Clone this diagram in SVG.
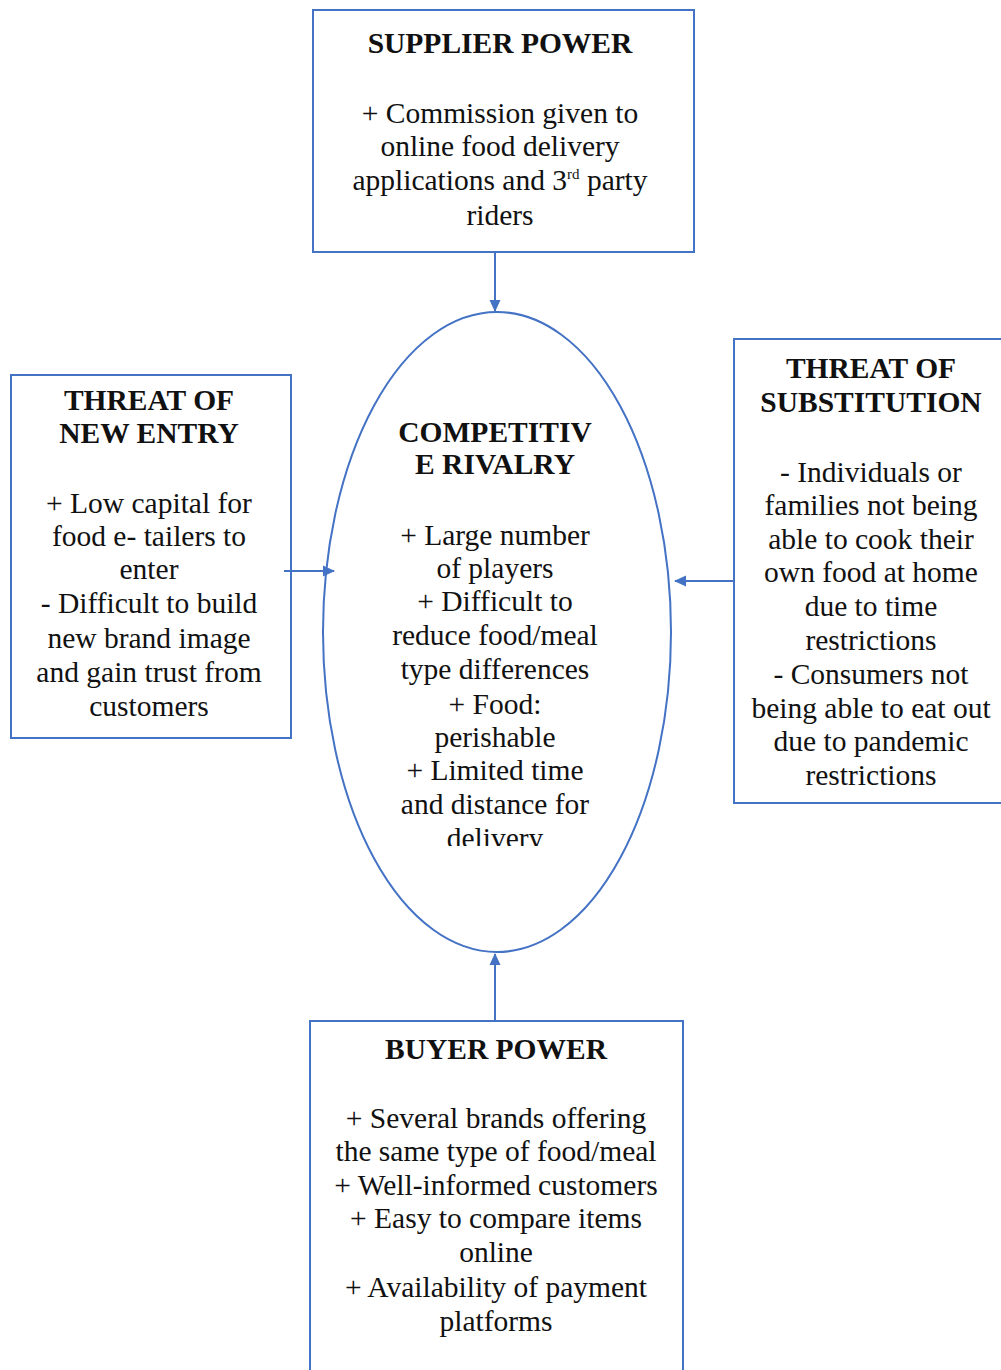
<svg xmlns="http://www.w3.org/2000/svg" width="1001" height="1370" viewBox="0 0 1001 1370">
<style>
.box{fill:#fff;stroke:#4472C4;stroke-width:2}
.t{font-family:"Liberation Serif","Times New Roman",serif;font-size:29.5px;fill:#111;text-anchor:middle}
.h{font-weight:bold}
.c{stroke:#4472C4;stroke-width:2;fill:none}
</style>
<defs>
<marker id="arr" markerWidth="12" markerHeight="12" refX="11" refY="6" orient="auto" markerUnits="userSpaceOnUse">
<path d="M0,0.5 L12,6 L0,11.5 z" fill="#4472C4"/>
</marker>
<clipPath id="ellclip"><rect x="300" y="300" width="400" height="546"/></clipPath>
</defs>
<rect width="1001" height="1370" fill="#fff"/>
<g id="supplier-power">
<rect class="box" x="313" y="10" width="381" height="242"/>
<text class="t h" x="500" y="53">SUPPLIER POWER</text>
<text class="t" x="500" y="123">+ Commission given to</text>
<text class="t" x="500" y="156">online food delivery</text>
<text class="t" x="500" y="190">applications and 3<tspan font-size="15" dy="-11">rd</tspan><tspan dy="11"> party</tspan></text>
<text class="t" x="500" y="225">riders</text>
</g>
<g id="competitive-rivalry">
<ellipse cx="497" cy="632" rx="174" ry="320" fill="#fff" stroke="#4472C4" stroke-width="2"/>
<g clip-path="url(#ellclip)">
<text class="t h" x="495" y="442">COMPETITIV</text>
<text class="t h" x="495" y="474">E RIVALRY</text>
<text class="t" x="495" y="545">+ Large number</text>
<text class="t" x="495" y="578">of players</text>
<text class="t" x="495" y="611">+ Difficult to</text>
<text class="t" x="495" y="645">reduce food/meal</text>
<text class="t" x="495" y="679">type differences</text>
<text class="t" x="495" y="714">+ Food:</text>
<text class="t" x="495" y="747">perishable</text>
<text class="t" x="495" y="780">+ Limited time</text>
<text class="t" x="495" y="814">and distance for</text>
<text class="t" x="495" y="848">delivery</text>
</g>
</g>
<g id="threat-of-new-entry">
<rect class="box" x="11" y="375" width="280" height="363"/>
<text class="t h" x="149" y="410">THREAT OF</text>
<text class="t h" x="149" y="443">NEW ENTRY</text>
<text class="t" x="149" y="513">+ Low capital for</text>
<text class="t" x="149" y="546">food e- tailers to</text>
<text class="t" x="149" y="579">enter</text>
<text class="t" x="149" y="613">- Difficult to build</text>
<text class="t" x="149" y="648">new brand image</text>
<text class="t" x="149" y="682">and gain trust from</text>
<text class="t" x="149" y="716">customers</text>
</g>
<g id="threat-of-substitution">
<rect class="box" x="734" y="339" width="280" height="464"/>
<text class="t h" x="871" y="378">THREAT OF</text>
<text class="t h" x="871" y="412">SUBSTITUTION</text>
<text class="t" x="871" y="482">- Individuals or</text>
<text class="t" x="871" y="515">families not being</text>
<text class="t" x="871" y="549">able to cook their</text>
<text class="t" x="871" y="582">own food at home</text>
<text class="t" x="871" y="616">due to time</text>
<text class="t" x="871" y="650">restrictions</text>
<text class="t" x="871" y="684">- Consumers not</text>
<text class="t" x="871" y="718">being able to eat out</text>
<text class="t" x="871" y="751">due to pandemic</text>
<text class="t" x="871" y="785">restrictions</text>
</g>
<g id="buyer-power">
<rect class="box" x="310" y="1021" width="373" height="360"/>
<text class="t h" x="496" y="1059">BUYER POWER</text>
<text class="t" x="496" y="1128">+ Several brands offering</text>
<text class="t" x="496" y="1161">the same type of food/meal</text>
<text class="t" x="496" y="1195">+ Well-informed customers</text>
<text class="t" x="496" y="1228">+ Easy to compare items</text>
<text class="t" x="496" y="1262">online</text>
<text class="t" x="496" y="1297">+ Availability of payment</text>
<text class="t" x="496" y="1331">platforms</text>
</g>
<g id="connectors">
<line class="c" x1="495" y1="253" x2="495" y2="311" marker-end="url(#arr)"/>
<line class="c" x1="284" y1="571" x2="334" y2="571" marker-end="url(#arr)"/>
<line class="c" x1="733" y1="581" x2="675" y2="581" marker-end="url(#arr)"/>
<line class="c" x1="495" y1="1020" x2="495" y2="954" marker-end="url(#arr)"/>
</g>
</svg>
